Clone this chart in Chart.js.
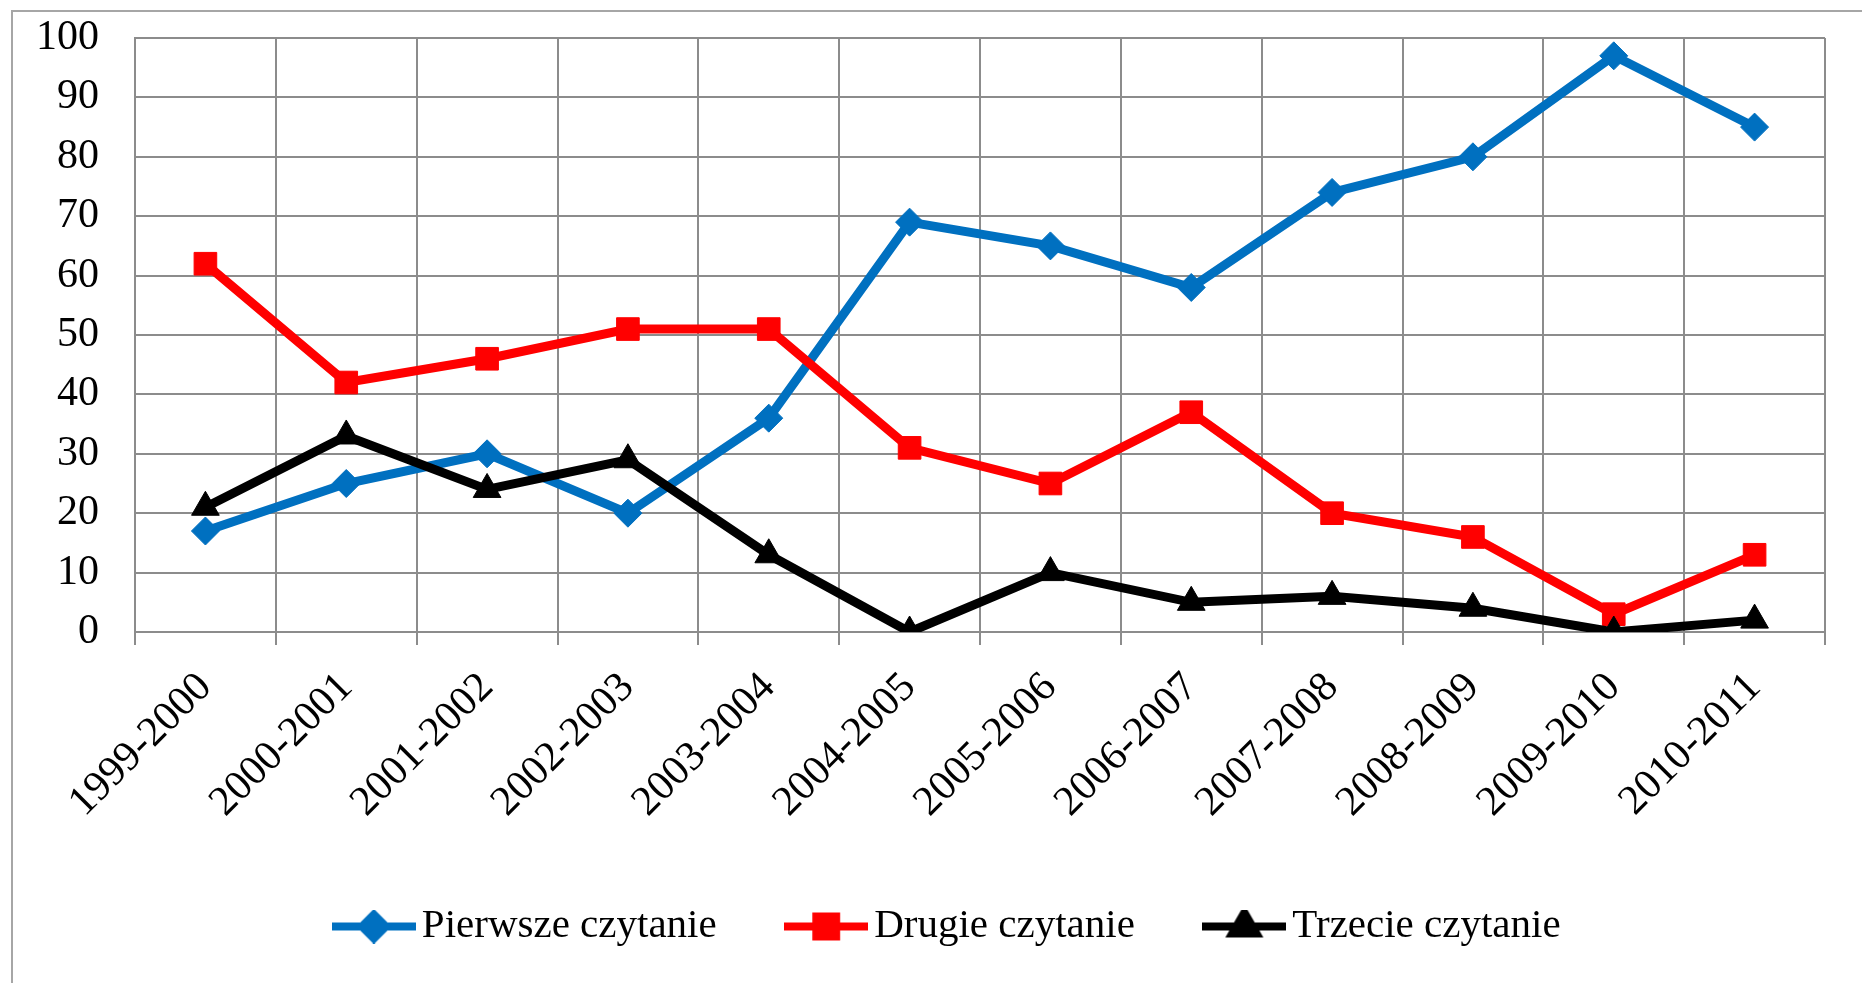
<!DOCTYPE html>
<html>
<head>
<meta charset="utf-8">
<script src="https://cdn.jsdelivr.net/npm/chart.js@4/dist/chart.umd.min.js"></script>
<style>
  html, body { margin: 0; padding: 0; background: #fff; }
  #frame { position: absolute; left: 11px; top: 10px; width: 1900px; height: 1000px;
           border-left: 2px solid #a6a6a6; border-top: 2px solid #a6a6a6; }
  #wrap { position: absolute; left: 0; top: 0; width: 1862px; height: 983px; }
</style>
</head>
<body>
<div id="frame"></div>
<div id="wrap"><canvas id="chart" width="1862" height="983"></canvas></div>
<script>
const seasons = ['1999-2000', '2000-2001', '2001-2002', '2002-2003', '2003-2004', '2004-2005',
                 '2005-2006', '2006-2007', '2007-2008', '2008-2009', '2009-2010', '2010-2011'];
const pierwsze = [17, 25, 30, 20, 36, 69, 65, 58, 74, 80, 97, 85];
const drugie   = [62, 42, 46, 51, 51, 31, 25, 37, 20, 16, 3, 13];
const trzecie  = [21, 33, 24, 29, 13, 0, 10, 5, 6, 4, 0, 2];
const yTicks   = [0, 10, 20, 30, 40, 50, 60, 70, 80, 90, 100];

const seriesNames = ['Pierwsze czytanie', 'Drugie czytanie', 'Trzecie czytanie'];
const colors = ['#0070c0', '#ff0000', '#000000'];
const markers = ['rectRot', 'rect', 'triangle'];
const radii = [14, 16, 16];

const font = 'Liberation Serif, Times New Roman, serif';

// legend swatch: line with marker in the middle, like excel
function swatch(color, style, r) {
  const c = document.createElement('canvas');
  c.width = 84; c.height = 34;
  const g = c.getContext('2d');
  g.strokeStyle = color;
  g.lineWidth = 8;
  g.beginPath(); g.moveTo(0, 17); g.lineTo(84, 17); g.stroke();
  Chart.helpers.drawPoint(g, {pointStyle: style, radius: r, borderWidth: 1, rotation: 0}, 42, 17);
  g.fillStyle = color;
  g.fill();
  return c;
}

const seriesData = [pierwsze, drugie, trzecie];
const datasets = seriesData.map((d, i) => ({
  label: seriesNames[i],
  data: d,
  borderColor: colors[i],
  backgroundColor: colors[i],
  borderWidth: 9,
  pointStyle: markers[i],
  pointRadius: radii[i],
  pointHoverRadius: radii[i],
  pointBorderWidth: 1,
  tension: 0,
  order: 3 - i
}));

// nudge the legend row a bit to the right, as in the original
const legendShift = {
  id: 'legendShift',
  afterLayout(ch) {
    ch.legend.left += 41;
    ch.legend.right += 41;
  }
};

const ctx = document.getElementById('chart').getContext('2d');
const chart = new Chart(ctx, {
  type: 'line',
  data: { labels: seasons, datasets: datasets },
  plugins: [legendShift],
  options: {
    responsive: false,
    animation: false,
    layout: { padding: { left: 0, right: 37, top: 38, bottom: 26 } },
    plugins: {
      tooltip: { enabled: false },
      legend: {
        position: 'bottom',
        labels: {
          usePointStyle: true,
          pointStyleWidth: 55,
          padding: 82,
          color: '#000',
          font: { family: font, size: 41 },
          sort: (a, b) => a.datasetIndex - b.datasetIndex,
          generateLabels: (ch) => {
            const items = Chart.defaults.plugins.legend.labels.generateLabels(ch);
            items.forEach(it => {
              const i = it.datasetIndex;
              it.pointStyle = swatch(colors[i], markers[i], radii[i] - 2);
            });
            return items;
          }
        }
      }
    },
    scales: {
      x: {
        offset: true,
        afterFit: (s) => { s.height = 192; },
        grid: { color: '#8c8c8c', lineWidth: 2, tickLength: 13, offset: true },
        border: { color: '#8c8c8c', width: 2 },
        ticks: { color: '#000', font: { family: font, size: 42 }, minRotation: 45, maxRotation: 45, padding: 18 }
      },
      y: {
        min: 0, max: 100,
        afterFit: (s) => { s.width = 135; s.paddingTop = 0; s.paddingBottom = 0; },
        afterBuildTicks: (s) => { s.ticks = yTicks.map(v => ({ value: v })); },
        grid: { color: '#8c8c8c', lineWidth: 2, drawTicks: false },
        border: { color: '#8c8c8c', width: 2 },
        ticks: { color: '#000', font: { family: font, size: 42 }, padding: 36 }
      }
    }
  }
});
</script>
</body>
</html>
